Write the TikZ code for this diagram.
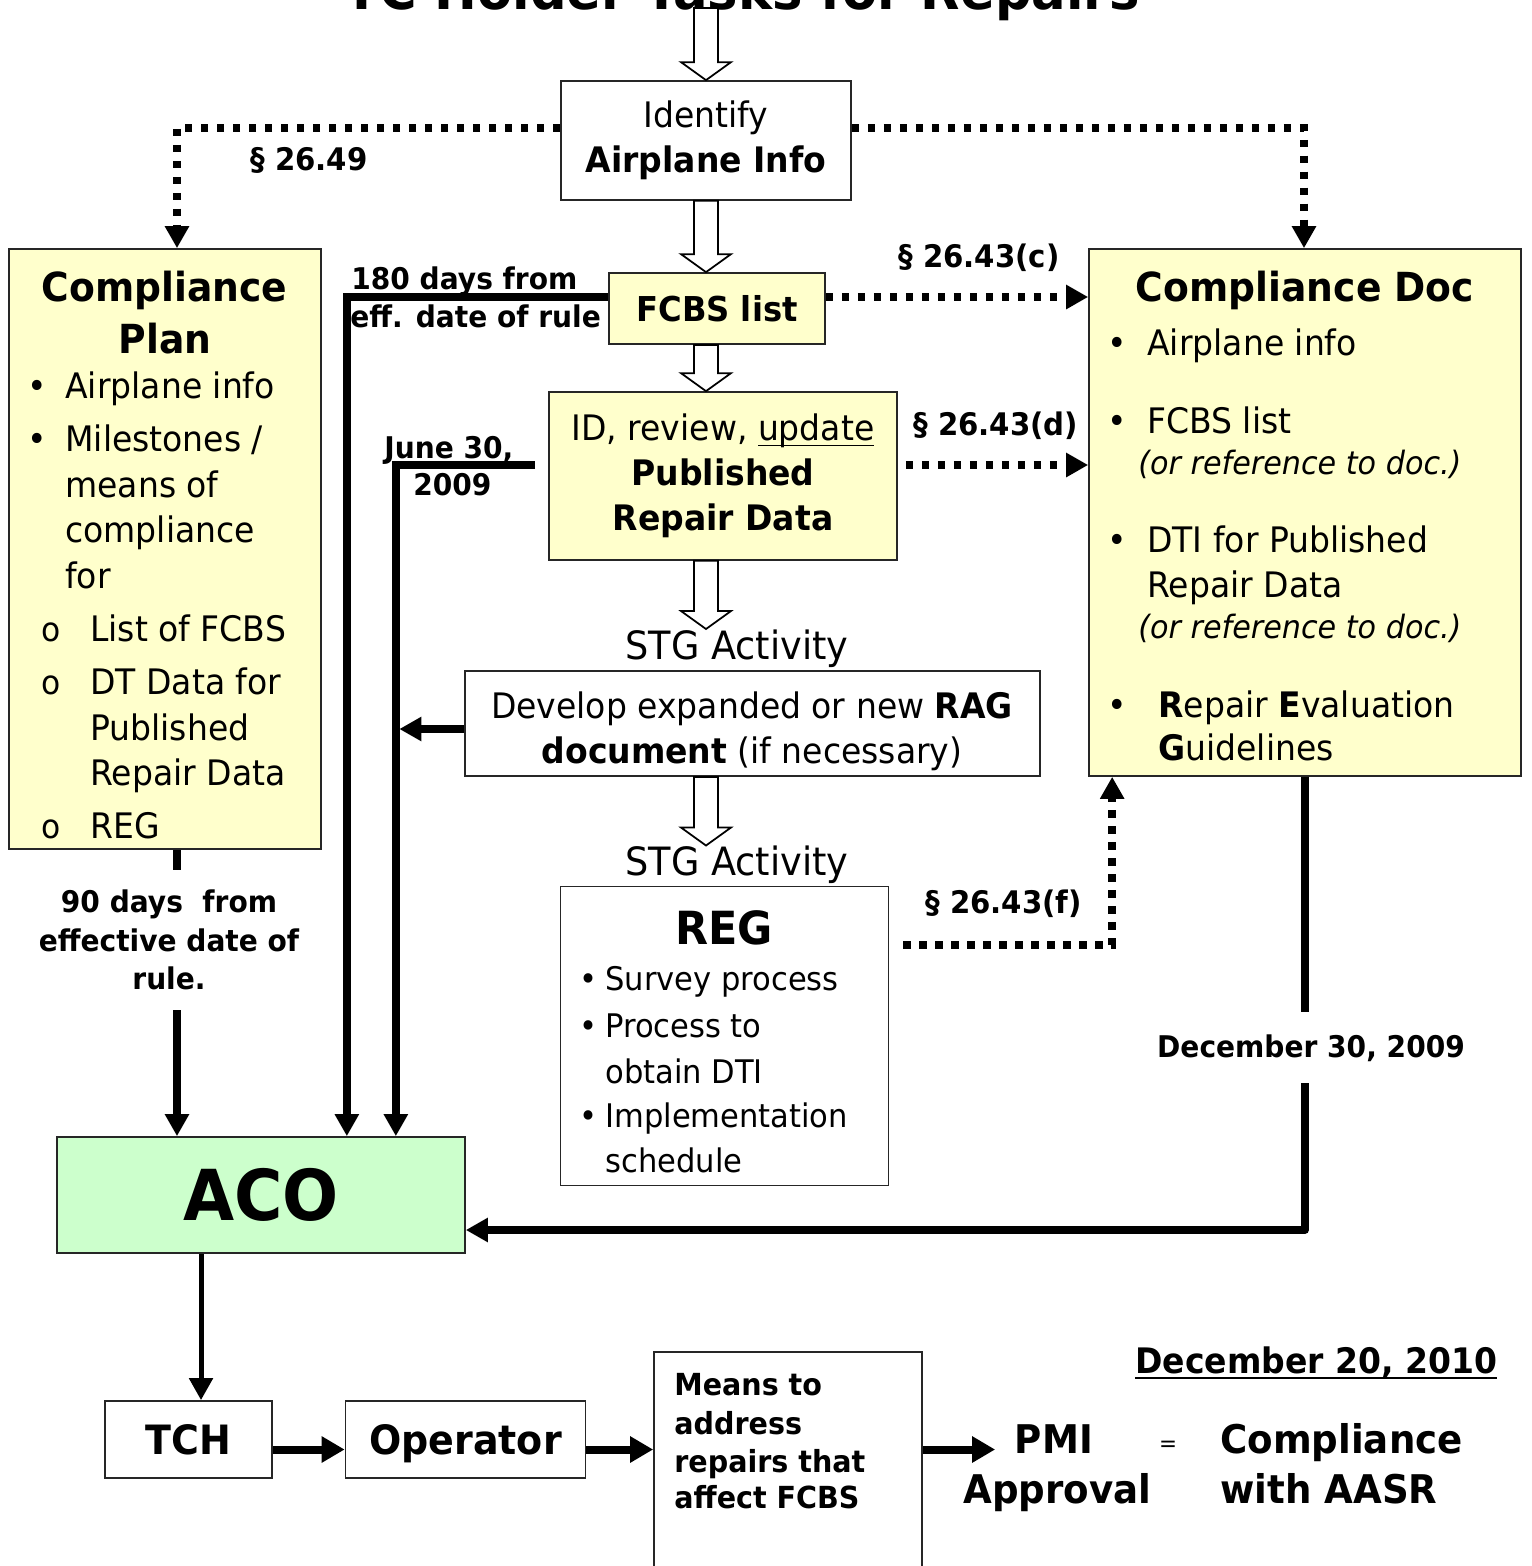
\documentclass[tikz,border=0pt]{standalone}
\usepackage{fontspec}
\setmainfont[FakeStretch=0.94]{DejaVu Sans}
\usepackage{tikz}
\usetikzlibrary{arrows.meta,calc}

\definecolor{planyellow}{HTML}{FFFFCC}
\definecolor{acogreen}{HTML}{CCFFCC}

\newcommand{\fsz}[2]{\fontsize{#1pt}{#2pt}\selectfont}
\newcommand{\undl}[1]{\setbox0\hbox{#1}\rlap{\rule[-0.11cm]{\wd0}{0.035cm}}\box0}
\newcommand{\hollowarrow}[2]{%
  \draw[hollow] let \p1=(#1), \p2=(#2) in
    (\x1-0.24cm,\y1) -- (\x1+0.24cm,\y1) -- (\x1+0.24cm,\y2+0.36cm) -- (\x1+0.5cm,\y2+0.36cm)
    -- (\x1,\y2) -- (\x1-0.5cm,\y2+0.36cm) -- (\x1-0.24cm,\y2+0.36cm) -- cycle;}

\tikzset{
  box/.style={draw=black!85, line width=0.035cm, inner sep=0pt},
  txt/.style={inner sep=0pt},
  hollow/.style={draw=black, line width=0.035cm, fill=white},
  flow/.style={line width=0.15cm, -{Triangle[length=0.44cm,width=0.46cm]}},
  link/.style={line width=0.15cm, dash pattern=on 0.15cm off 0.17cm, -{Triangle[length=0.44cm,width=0.46cm]}},
  push/.style={line width=0.16cm, -{Triangle[length=0.46cm,width=0.5cm]}},
  sect/.style={txt, anchor=base west, font=\fsz{17.7}{21}\bfseries},
  item/.style={txt, anchor=base west, font=\fsz{20}{24}},
  dot/.style={txt, anchor=base, font=\fsz{20}{24}},
}

\begin{document}
\begin{tikzpicture}[x=0.02cm,y=-0.02cm]
\useasboundingbox (0,0) rectangle (1532,1566);

\node[txt, anchor=base, font=\fsz{31}{36}\bfseries] (title) at (742,9) {TC Holder Tasks for Repairs};
\coordinate (top) at (706,8);

\node[box, minimum width=5.8cm, minimum height=2.38cm, align=center, font=\fsz{20}{25.5}] (ident) at (706,140.5) {Identify\\\textbf{Airplane Info}};
\node[box, fill=planyellow, minimum width=4.32cm, minimum height=1.42cm, font=\fsz{19.5}{24}\bfseries] (fcbs) at (717,308.5) {FCBS list};
\node[box, fill=planyellow, minimum width=6.96cm, minimum height=3.36cm, align=center, font=\fsz{20}{25.5}] (pub) at (723,476) {ID, review, \undl{update}\\\textbf{Published}\\\textbf{Repair Data}};
\node[box, minimum width=11.5cm, minimum height=2.1cm] (rag) at (752.5,723.5) {};
\node[box, minimum width=6.56cm, minimum height=5.98cm] (reg) at (724.5,1036) {};
\node[box, fill=planyellow, minimum width=6.24cm, minimum height=12cm] (plan) at (165,549) {};
\node[box, fill=planyellow, minimum width=8.64cm, minimum height=10.54cm] (doc) at (1305,512.5) {};
\node[box, fill=acogreen, minimum width=8.16cm, minimum height=2.32cm, font=\fsz{40}{48}\bfseries] (aco) at (261,1195) {ACO};
\node[box, minimum width=3.34cm, minimum height=1.54cm, font=\fsz{23}{28}\bfseries] (tch) at (188.5,1439.5) {TCH};
\node[box, minimum width=4.8cm, minimum height=1.54cm, text depth=0pt, font=\fsz{23}{28}\bfseries] (oper) at (465.5,1439.5) {Operator};
\node[box, minimum width=5.36cm, minimum height=4.4cm] (means) at (788,1462) {};

\node[txt, align=center, font=\fsz{20}{25.5}] (ragtxt) at (752,731) {Develop expanded or new \textbf{RAG}\\\textbf{document} (if necessary)};
\node[txt, anchor=base, font=\fsz{22.2}{26}] (stga) at (737,659) {STG Activity};
\node[txt, anchor=base, font=\fsz{22.2}{26}] (stgb) at (737,875.5) {STG Activity};

\node[txt, anchor=base, font=\fsz{22.8}{27}\bfseries] (plant) at (164.5,301) {Compliance};
\node[txt, anchor=base, font=\fsz{22.8}{27}\bfseries] (planp) at (165,353) {Plan};
\node[dot] (pb1) at (37.5,398) {\textbullet};
\node[dot] (pb2) at (37.5,451) {\textbullet};
\node[item] (pa) at (65,398) {Airplane info};
\node[item] (pm1) at (65,451) {Milestones /};
\node[item] (pm2) at (65,497) {means of};
\node[item] (pm3) at (65,542) {compliance};
\node[item] (pm4) at (65,588) {for};
\node[txt, anchor=base, font=\fsz{19}{22}] (po1) at (51,641) {o};
\node[txt, anchor=base, font=\fsz{19}{22}] (po2) at (51,694.5) {o};
\node[txt, anchor=base, font=\fsz{19}{22}] (po3) at (51,838) {o};
\node[item] (pl) at (90,641) {List of FCBS};
\node[item] (pd1) at (90,694.5) {DT Data for};
\node[item] (pd2) at (90,740) {Published};
\node[item] (pd3) at (90,785) {Repair Data};
\node[item] (pr) at (90,838) {REG};

\node[txt, anchor=base, font=\fsz{22.8}{27}\bfseries] (doct) at (1305,301) {Compliance Doc};
\node[dot] (db1) at (1117,355) {\textbullet};
\node[dot] (db2) at (1117,433) {\textbullet};
\node[dot] (db3) at (1117,552.5) {\textbullet};
\node[dot] (db4) at (1117,717) {\textbullet};
\node[item] (da) at (1147,355) {Airplane info};
\node[item] (df) at (1147,433) {FCBS list};
\node[txt, anchor=base west, font=\fsz{18.3}{22}\itshape] (dref1) at (1138,474) {(or reference to doc.)};
\node[item] (dd1) at (1147,552.5) {DTI for Published};
\node[item] (dd2) at (1147,597) {Repair Data};
\node[txt, anchor=base west, font=\fsz{18.3}{22}\itshape] (dref2) at (1138,638) {(or reference to doc.)};
\node[item] (dr1) at (1158,717) {\textbf{R}epair \textbf{E}valuation};
\node[item] (dr2) at (1158,760) {\textbf{G}uidelines};

\node[txt, anchor=base, font=\fsz{26}{30}\bfseries] (regt) at (724,944) {REG};
\node[txt, anchor=base, font=\fsz{18.5}{22}] (rb1) at (589,990) {\textbullet};
\node[txt, anchor=base, font=\fsz{18.5}{22}] (rb2) at (589,1037) {\textbullet};
\node[txt, anchor=base, font=\fsz{18.5}{22}] (rb3) at (589,1127) {\textbullet};
\node[txt, anchor=base west, font=\fsz{18.5}{22}] (rs) at (605,990) {Survey process};
\node[txt, anchor=base west, font=\fsz{18.5}{22}] (rp1) at (605,1037) {Process to};
\node[txt, anchor=base west, font=\fsz{18.5}{22}] (rp2) at (605,1083) {obtain DTI};
\node[txt, anchor=base west, font=\fsz{18.5}{22}] (ri1) at (605,1127) {Implementation};
\node[txt, anchor=base west, font=\fsz{18.5}{22}] (ri2) at (605,1172) {schedule};

\node[txt, anchor=base west, font=\fsz{17.3}{21}\bfseries] (m1) at (674,1395) {Means to};
\node[txt, anchor=base west, font=\fsz{17.3}{21}\bfseries] (m2) at (674,1434) {address};
\node[txt, anchor=base west, font=\fsz{17.3}{21}\bfseries] (m3) at (674,1472) {repairs that};
\node[txt, anchor=base west, font=\fsz{17.3}{21}\bfseries] (m4) at (674,1508) {affect FCBS};
\node[txt, inner xsep=0.39cm, anchor=base, font=\fsz{22.5}{27}\bfseries] (pmi) at (1054,1453) {PMI};
\node[txt, anchor=base, font=\fsz{22.5}{27}\bfseries] (appr) at (1057.5,1503) {Approval};
\node[txt, anchor=base, font=\fsz{13}{15}] (eq) at (1168,1451) {=};
\node[txt, anchor=base west, font=\fsz{22.5}{27}\bfseries] (cw1) at (1220,1453) {Compliance};
\node[txt, anchor=base west, font=\fsz{22.5}{27}\bfseries] (cw2) at (1220,1503) {with AASR};
\node[txt, anchor=base west, font=\fsz{20}{24}\bfseries] (dec20) at (1135,1373) {\undl{December 20, 2010}};

% hollow arrows
\hollowarrow{top}{ident.north}
\hollowarrow{ident.south}{ident.south |- fcbs.north}
\hollowarrow{ident.south |- fcbs.south}{ident.south |- pub.north}
\hollowarrow{ident.south |- pub.south}{ident.south |- stga.north}
\hollowarrow{ident.south |- rag.south}{ident.south |- stgb.north}

% dotted links
\draw[link] ([yshift=0.25cm]ident.west) -| ([xshift=0.24cm]plan.north);
\draw[link] ([yshift=0.25cm]ident.east) -| ([xshift=-0.02cm]doc.north);
\draw[link] ([yshift=0.23cm]fcbs.east) -- ([yshift=0.23cm]fcbs.east -| doc.west);
\draw[link] ([shift={(0.16cm,0.22cm)}]pub.east) -- ([yshift=0.22cm]pub.east -| doc.west);
\draw[link] ([shift={(0.28cm,1.82cm)}]reg.east) -| ([xshift=0.48cm]doc.south west);
\node[sect] (s49) at (250,170) {§ 26.49};
\node[sect] (s43c) at (898,267) {§ 26.43(c)};
\node[sect] (s43d) at (913,435) {§ 26.43(d)};
\node[sect] (s43f) at (925,913) {§ 26.43(f)};

% deadlines
\draw[flow] ([xshift=0.24cm]plan.south) -- ([xshift=0.24cm]plan.south |- aco.north);
\draw[flow] ([yshift=0.23cm]fcbs.west) -| ([xshift=-2.38cm]aco.north east);
\draw[flow] ([shift={(-0.26cm,0.22cm)}]pub.west) -| ([xshift=-1.4cm]aco.north east);
\draw[flow, shorten >=0.07cm] ([yshift=-0.11cm]rag.west) -- ([xshift=-1.4cm, yshift=-0.11cm]rag.west -| aco.north east);
\draw[flow, line join=round] (doc.south) |- ([yshift=-0.7cm]aco.east);
\node[txt, align=center, fill=white, inner ysep=0.4cm, font=\fsz{17}{21.8}\bfseries] (d90) at (169,940) {90 days~ from\\effective date of\\rule.};
\node[txt, anchor=base, fill=white, inner ysep=0.44cm, font=\fsz{17}{21}\bfseries] (d09) at (1311,1057) {December 30, 2009};
\node[txt, anchor=base west, font=\fsz{17}{21}\bfseries] (d180a) at (351,289) {180 days from};
\node[txt, anchor=base west, font=\fsz{17}{21}\bfseries] (d180b) at (350,327) {eff. date of rule};
\node[txt, anchor=base west, font=\fsz{17}{21}\bfseries] (jun1) at (384,458.6) {June 30,};
\node[txt, anchor=base west, font=\fsz{17}{21}\bfseries] (jun2) at (413,495) {2009};

% operator chain
\draw[flow, line width=0.1cm] ([xshift=-1.2cm]aco.south) -- ([xshift=-1.2cm]aco.south |- tch.north);
\draw[push] ([yshift=-0.2cm]tch.east) -- ([yshift=-0.2cm]tch.east -| oper.west);
\draw[push] ([yshift=-0.2cm]oper.east) -- ([yshift=-0.2cm]oper.east -| means.west);
\draw[push] ([yshift=-0.2cm]oper.east -| means.east) -- ([yshift=-0.2cm]oper.east -| pmi.west);

\end{tikzpicture}
\end{document}
